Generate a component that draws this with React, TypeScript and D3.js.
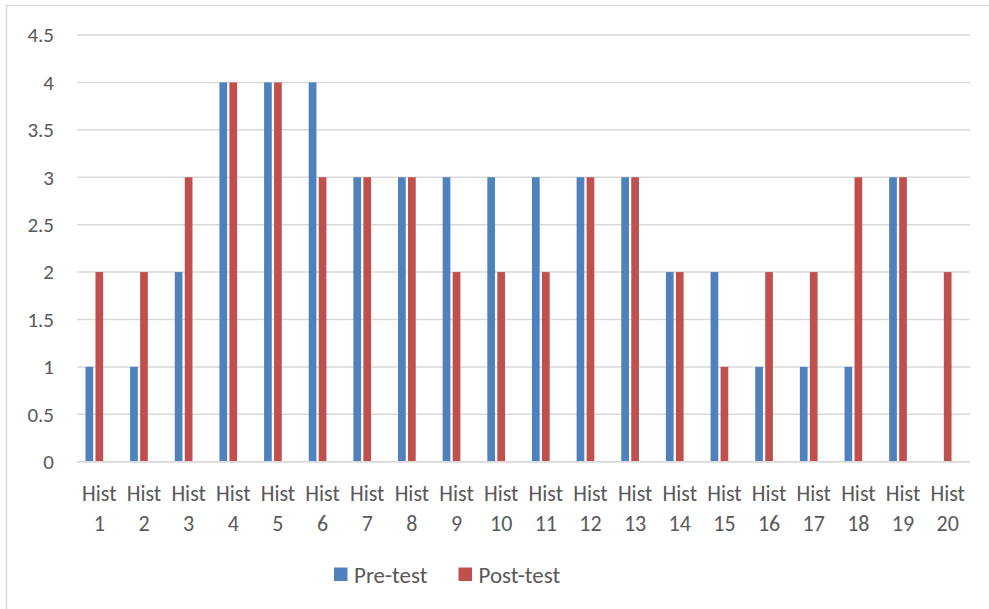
import React from "react";
import * as d3 from "d3";

const categories = Array.from({ length: 20 }, (_, i) => `Hist ${i + 1}`);
const preTest = [1, 1, 2, 4, 4, 4, 3, 3, 3, 3, 3, 3, 3, 2, 2, 1, 1, 1, 3, 0];
const postTest = [2, 2, 3, 4, 4, 3, 3, 3, 2, 2, 2, 3, 3, 2, 1, 2, 2, 3, 3, 2];
const yTicks = [0, 0.5, 1, 1.5, 2, 2.5, 3, 3.5, 4, 4.5];
const seriesNames = ["Pre-test", "Post-test"];
const colors = ["#4F81BD", "#C0504D"];

const W = 989;
const H = 609;
const left = 77;
const right = 970;
const top = 35;
const bottom = 461.7;
const font = "Carlito, Calibri, Lato, 'Open Sans', sans-serif";
const textColor = "#595959";

export default function App() {
  const x = d3.scaleBand<string>().domain(categories).range([left, right]).padding(0);
  const y = d3.scaleLinear().domain([0, 4.5]).range([bottom, top]);
  const bw = x.bandwidth();
  const step = bw * 0.224;
  const barW = step * 0.77;
  const groupW = step * 2 + barW;
  const series = [preTest, postTest];

  return (
    <svg width={W} height={H} style={{ display: "block", position: "absolute", left: 0, top: 0 }}>
      <rect x={0} y={0} width={W} height={H} fill="#fff" />
      <rect x={6.5} y={5.5} width={W} height={H} fill="none" stroke="#d9d9d9" strokeWidth={1.5} />
      {yTicks.map((t) => (
        <g key={t}>
          <line x1={left} x2={right} y1={y(t)} y2={y(t)} stroke="#d9d9d9" strokeWidth={1.5} />
          <text x={54} y={y(t)} dy="0.35em" textAnchor="end" fontFamily={font} fontSize={21} fill={textColor}>
            {t}
          </text>
        </g>
      ))}
      {series.map((vals, si) =>
        vals.map((v, i) => {
          const cx = (x(categories[i]) as number) + bw / 2;
          const x0 = cx - groupW / 2 + si * step;
          return v > 0 ? (
            <rect key={`${si}-${i}`} x={x0} y={y(v)} width={barW} height={y(0) - y(v)} fill={colors[si]} />
          ) : null;
        })
      )}
      <line x1={left} x2={right} y1={y(0)} y2={y(0)} stroke="#d9d9d9" strokeWidth={1.5} />
      {categories.map((c) => {
        const cx = (x(c) as number) + bw / 2;
        const [a, b] = c.split(" ");
        return (
          <g key={c}>
            <text x={cx} y={493} dy="0.35em" textAnchor="middle" fontFamily={font} fontSize={22} fill={textColor}>
              {a}
            </text>
            <text x={cx} y={523} dy="0.35em" textAnchor="middle" fontFamily={font} fontSize={22} fill={textColor}>
              {b}
            </text>
          </g>
        );
      })}
      {seriesNames.map((n, i) => {
        const lx = i === 0 ? 334 : 458.5;
        return (
          <g key={n}>
            <rect x={lx} y={567.5} width={13.5} height={13.5} fill={colors[i]} />
            <text x={lx + 20} y={574.5} dy="0.35em" fontFamily={font} fontSize={23} fill={textColor}>
              {n}
            </text>
          </g>
        );
      })}
    </svg>
  );
}
